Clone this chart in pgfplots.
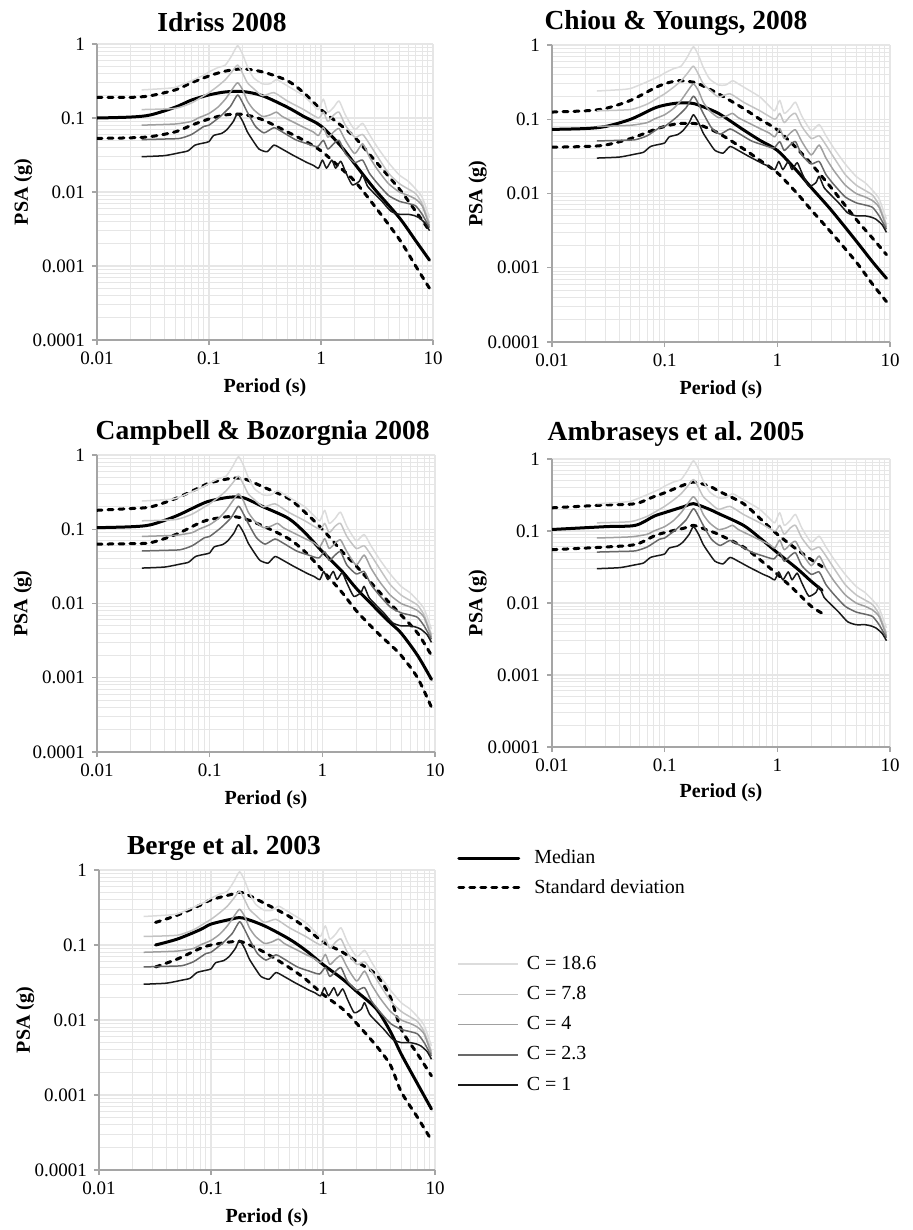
\documentclass[border=0pt]{standalone}
\usepackage{pgfplots}
\pgfplotsset{compat=1.18}
\usepackage{pgfplotstable}
\usepackage{fontspec}
\setmainfont{Liberation Serif}
\frenchspacing

\definecolor{cA}{RGB}{25,25,25}     % C = 1
\definecolor{cB}{RGB}{105,105,105}  % C = 2.3
\definecolor{cC}{RGB}{160,160,160}  % C = 4
\definecolor{cD}{RGB}{195,195,195}  % C = 7.8
\definecolor{cE}{RGB}{220,220,220}  % C = 18.6
\definecolor{gridc}{RGB}{230,230,230}
\definecolor{axisc}{RGB}{165,165,165}

% scaled records (same in every panel)
\pgfplotstableread{
T v
0.025 0.030
0.04 0.031
0.055 0.034
0.065 0.036
0.075 0.043
0.09 0.046
0.1 0.048
0.11 0.058
0.13 0.062
0.145 0.07
0.165 0.09
0.18 0.115
0.2 0.09
0.22 0.065
0.25 0.048
0.28 0.038
0.33 0.035
0.38 0.043
0.45 0.038
0.55 0.032
0.65 0.028
0.75 0.025
0.85 0.023
0.95 0.021
1.03 0.027
1.12 0.021
1.25 0.027
1.35 0.021
1.5 0.026
1.65 0.019
1.9 0.0125
2.2 0.014
2.35 0.017
2.6 0.012
3.0 0.0095
3.5 0.0075
4.2 0.0055
5.0 0.005
6.0 0.005
6.8 0.0048
7.5 0.0045
8.5 0.0038
9.3 0.003
}\tCa
\pgfplotstableread{
T v
0.025 0.051
0.04 0.052
0.055 0.053
0.07 0.06
0.09 0.077
0.1 0.08
0.126 0.105
0.155 0.143
0.18 0.205
0.2 0.16
0.22 0.12
0.26 0.077
0.31 0.063
0.38 0.074
0.45 0.065
0.59 0.051
0.75 0.045
0.93 0.041
1.05 0.05
1.15 0.038
1.3 0.045
1.45 0.05
1.65 0.033
2.0 0.025
2.35 0.027
2.7 0.018
3.2 0.013
4.0 0.009
5.0 0.0075
6.0 0.007
7.0 0.0065
8.0 0.005
9.3 0.0033
}\tCb
\pgfplotstableread{
T v
0.025 0.08
0.05 0.083
0.07 0.09
0.08 0.1
0.1 0.115
0.12 0.14
0.14 0.18
0.16 0.24
0.18 0.3
0.2 0.24
0.22 0.17
0.25 0.13
0.3 0.105
0.35 0.11
0.4 0.12
0.45 0.105
0.55 0.09
0.7 0.075
0.85 0.065
0.95 0.058
1.05 0.075
1.15 0.055
1.3 0.065
1.45 0.072
1.65 0.05
2.0 0.033
2.35 0.045
2.7 0.03
3.2 0.02
4.0 0.013
5.0 0.01
6.0 0.009
7.0 0.008
8.0 0.0065
9.3 0.0035
}\tCc
\pgfplotstableread{
T v
0.025 0.13
0.05 0.135
0.07 0.16
0.09 0.2
0.1 0.22
0.12 0.27
0.14 0.33
0.16 0.42
0.18 0.52
0.2 0.4
0.22 0.3
0.25 0.25
0.3 0.2
0.38 0.22
0.5 0.17
0.7 0.13
0.95 0.1
1.05 0.12
1.15 0.09
1.3 0.11
1.45 0.12
1.65 0.08
2.0 0.055
2.35 0.06
2.7 0.045
3.2 0.03
4.0 0.018
5.0 0.013
6.0 0.011
7.0 0.0095
8.0 0.007
9.3 0.0038
}\tCd
\pgfplotstableread{
T v
0.025 0.24
0.04 0.25
0.05 0.26
0.07 0.32
0.09 0.38
0.1 0.42
0.12 0.48
0.14 0.52
0.16 0.7
0.18 0.95
0.2 0.72
0.22 0.5
0.25 0.35
0.3 0.29
0.35 0.29
0.4 0.33
0.45 0.3
0.55 0.25
0.7 0.2
0.85 0.15
0.95 0.13
1.05 0.18
1.15 0.12
1.3 0.14
1.45 0.17
1.65 0.11
2.0 0.07
2.35 0.085
2.7 0.06
3.2 0.04
4.0 0.025
5.0 0.017
6.0 0.014
7.0 0.011
8.0 0.0085
9.3 0.0045
}\tCe

% Idriss 2008: T median upper lower
\pgfplotstableread{
T m u l
0.01 0.100 0.19 0.053
0.02 0.103 0.19 0.054
0.03 0.11 0.2 0.056
0.05 0.14 0.24 0.065
0.07 0.175 0.3 0.08
0.1 0.205 0.37 0.097
0.14 0.225 0.43 0.11
0.2 0.228 0.46 0.112
0.3 0.2 0.42 0.095
0.5 0.14 0.32 0.065
0.7 0.105 0.22 0.05
1 0.078 0.13 0.036
1.5 0.042 0.08 0.021
2 0.024 0.055 0.014
3 0.011 0.027 0.0065
5 0.0045 0.011 0.0023
7 0.0022 0.0055 0.001
9.3 0.0012 0.003 0.0005
}\tIdr
% Chiou & Youngs 2008
\pgfplotstableread{
T m u l
0.01 0.073 0.125 0.042
0.02 0.075 0.13 0.043
0.03 0.08 0.14 0.045
0.05 0.1 0.18 0.055
0.08 0.14 0.26 0.072
0.1 0.155 0.3 0.08
0.13 0.165 0.33 0.087
0.17 0.165 0.32 0.088
0.2 0.155 0.3 0.085
0.3 0.12 0.22 0.065
0.5 0.072 0.14 0.04
0.7 0.052 0.1 0.028
1 0.038 0.072 0.019
1.5 0.02 0.04 0.01
2 0.012 0.025 0.006
3 0.006 0.012 0.003
5 0.0023 0.0045 0.0012
7 0.0012 0.0025 0.0006
9.3 0.00072 0.0015 0.00035
}\tChi
% Campbell & Bozorgnia 2008
\pgfplotstableread{
T m u l
0.01 0.105 0.18 0.063
0.02 0.108 0.19 0.064
0.03 0.115 0.2 0.066
0.05 0.15 0.26 0.085
0.08 0.21 0.36 0.12
0.1 0.24 0.42 0.135
0.15 0.27 0.48 0.148
0.2 0.265 0.48 0.14
0.3 0.2 0.37 0.11
0.5 0.14 0.26 0.075
0.7 0.09 0.17 0.05
1 0.05 0.1 0.028
1.5 0.027 0.05 0.014
2 0.016 0.032 0.008
3 0.0085 0.016 0.0042
4 0.0055 0.01 0.0028
5 0.004 0.007 0.002
7 0.002 0.004 0.001
9.3 0.00095 0.002 0.0004
}\tCam
% Ambraseys et al. 2005 (to 2.5 s)
\pgfplotstableread{
T m u l
0.01 0.105 0.21 0.055
0.03 0.115 0.23 0.06
0.055 0.12 0.24 0.065
0.08 0.16 0.3 0.085
0.1 0.18 0.34 0.095
0.15 0.22 0.44 0.11
0.18 0.24 0.48 0.12
0.25 0.2 0.42 0.1
0.3 0.175 0.36 0.09
0.5 0.12 0.24 0.06
0.7 0.08 0.15 0.04
1 0.05 0.09 0.025
1.5 0.03 0.055 0.014
2 0.02 0.04 0.009
2.5 0.015 0.032 0.0072
}\tAmb
% Berge et al. 2003
\pgfplotstableread{
T m u l
0.032 0.1 0.2 0.051
0.05 0.12 0.25 0.065
0.08 0.16 0.34 0.09
0.1 0.19 0.4 0.1
0.15 0.22 0.47 0.11
0.19 0.23 0.5 0.11
0.3 0.18 0.36 0.08
0.5 0.12 0.24 0.05
0.7 0.085 0.17 0.035
1 0.055 0.11 0.022
1.5 0.035 0.08 0.014
2 0.024 0.06 0.009
3 0.014 0.04 0.0045
4 0.007 0.02 0.0025
5 0.0035 0.0075 0.0011
7 0.0014 0.0035 0.0005
9.3 0.00065 0.0018 0.00025
}\tBer

\tikzset{
  med/.style={black, line width=1.5pt, line cap=round},
  sd/.style={black, line width=1.5pt, dash pattern=on 2.5pt off 3pt, line cap=round},
  cline/.style={line width=0.75pt, line join=round},
}

\pgfplotsset{
  every axis/.append style={
    scale only axis,
    tick label style={font=\fontsize{9.5}{11}\selectfont},
    title style={anchor=center, yshift=5pt, font=\bfseries\fontsize{13.75}{16}\selectfont},
  },
  every axis x label/.style={at={(axis description cs:0.5,-0.16)}, anchor=center,
    font=\bfseries\fontsize{10}{12}\selectfont},
  every axis y label/.style={at={(axis description cs:-0.22,0.5)}, anchor=center,
    rotate=90, font=\bfseries\fontsize{10}{12}\selectfont},
}

\newcommand\Ccurves{%
  \addplot[cline, cE, smooth, tension=0.35] table[x=T, y=v] {\tCe};
  \addplot[cline, cD, smooth, tension=0.35] table[x=T, y=v] {\tCd};
  \addplot[cline, cC, smooth, tension=0.35] table[x=T, y=v] {\tCc};
  \addplot[cline, cB, smooth, tension=0.35] table[x=T, y=v] {\tCb};
  \addplot[cline, cA, smooth, tension=0.35] table[x=T, y=v] {\tCa};
}
\newcommand\Model[1]{%
  \addplot[sd, smooth] table[x=T, y=u] {#1};
  \addplot[sd, smooth] table[x=T, y=l] {#1};
  \addplot[med, smooth] table[x=T, y=m] {#1};
}

\begin{document}
\begin{tikzpicture}
\path[use as bounding box] (0pt,0pt) rectangle (456.5pt,-615pt);

\begin{axis}[at={(48.5pt,-170pt)}, anchor=south west, width=168pt, height=148pt,
  xmode=log, ymode=log, xmin=0.01, xmax=10, ymin=0.0001, ymax=1,
  axis x line=bottom, axis y line=left, axis line style={draw=axisc, line width=0.6pt, -},
  grid=both, major grid style={draw=gridc, line width=0.7pt}, minor grid style={draw=gridc, line width=0.5pt},
  tick align=outside, major tick length=2.5pt, minor tick length=0pt, tick style={draw=axisc, line width=0.6pt},
  log ticks with fixed point, /pgf/number format/assume math mode=true,
  xlabel={Period (s)}, ylabel={PSA (g)},
  title={Idriss 2008}, title style={at={(axis description cs:0.372,1)}}]
\Model{\tIdr}
\Ccurves
\end{axis}

\begin{axis}[at={(276pt,-171pt)}, anchor=south west, width=169pt, height=148.5pt,
  xmode=log, ymode=log, xmin=0.01, xmax=10, ymin=0.0001, ymax=1,
  axis x line=bottom, axis y line=left, axis line style={draw=axisc, line width=0.6pt, -},
  grid=both, major grid style={draw=gridc, line width=0.7pt}, minor grid style={draw=gridc, line width=0.5pt},
  tick align=outside, major tick length=2.5pt, minor tick length=0pt, tick style={draw=axisc, line width=0.6pt},
  log ticks with fixed point, /pgf/number format/assume math mode=true,
  xlabel={Period (s)}, ylabel={PSA (g)},
  title={Chiou \& Youngs, 2008}, title style={at={(axis description cs:0.367,1)}}]
\Model{\tChi}
\Ccurves
\end{axis}

\begin{axis}[at={(48.5pt,-376pt)}, anchor=south west, width=169pt, height=148.5pt,
  xmode=log, ymode=log, xmin=0.01, xmax=10, ymin=0.0001, ymax=1,
  axis x line=bottom, axis y line=left, axis line style={draw=axisc, line width=0.6pt, -},
  grid=both, major grid style={draw=gridc, line width=0.7pt}, minor grid style={draw=gridc, line width=0.5pt},
  tick align=outside, major tick length=2.5pt, minor tick length=0pt, tick style={draw=axisc, line width=0.6pt},
  log ticks with fixed point, /pgf/number format/assume math mode=true,
  xlabel={Period (s)}, ylabel={PSA (g)},
  title={Campbell \& Bozorgnia 2008}, title style={at={(axis description cs:0.49,1)}}]
\Model{\tCam}
\Ccurves
\end{axis}

\begin{axis}[at={(276pt,-373.5pt)}, anchor=south west, width=169pt, height=144pt,
  xmode=log, ymode=log, xmin=0.01, xmax=10, ymin=0.0001, ymax=1,
  axis x line=bottom, axis y line=left, axis line style={draw=axisc, line width=0.6pt, -},
  grid=both, major grid style={draw=gridc, line width=0.7pt}, minor grid style={draw=gridc, line width=0.5pt},
  tick align=outside, major tick length=2.5pt, minor tick length=0pt, tick style={draw=axisc, line width=0.6pt},
  log ticks with fixed point, /pgf/number format/assume math mode=true,
  xlabel={Period (s)}, ylabel={PSA (g)},
  title={Ambraseys et al. 2005}, title style={at={(axis description cs:0.367,1)}, yshift=1.5pt}]
\Model{\tAmb}
\Ccurves
\end{axis}

\begin{axis}[at={(49.5pt,-585pt)}, anchor=south west, width=168pt, height=150pt,
  xmode=log, ymode=log, xmin=0.01, xmax=10, ymin=0.0001, ymax=1,
  axis x line=bottom, axis y line=left, axis line style={draw=axisc, line width=0.6pt, -},
  grid=both, major grid style={draw=gridc, line width=0.7pt}, minor grid style={draw=gridc, line width=0.5pt},
  tick align=outside, major tick length=2.5pt, minor tick length=0pt, tick style={draw=axisc, line width=0.6pt},
  log ticks with fixed point, /pgf/number format/assume math mode=true,
  xlabel={Period (s)}, ylabel={PSA (g)},
  title={Berge et al. 2003}, title style={at={(axis description cs:0.372,1)}}]
\Model{\tBer}
\Ccurves
\end{axis}

% legends, placed against the Berge panel
\begin{axis}[at={(49.5pt,-585pt)}, anchor=south west, width=168pt, height=150pt,
  hide axis, xmin=0, xmax=1, ymin=0, ymax=1,
  legend cell align=left,
  legend image code/.code={\draw[#1] (0pt,0pt) -- (30pt,0pt);},
  legend style={draw=none, fill=none, at={(axis description cs:1.065,0.99)}, anchor=west,
    inner sep=0pt, column sep=5pt, row sep=2.5pt, font=\fontsize{10}{12}\selectfont}]
\addlegendimage{med}
\addlegendentry{Median}
\addlegendimage{sd}
\addlegendentry{Standard deviation}
\end{axis}

\begin{axis}[at={(49.5pt,-585pt)}, anchor=south west, width=168pt, height=150pt,
  hide axis, xmin=0, xmax=1, ymin=0, ymax=1,
  legend cell align=left,
  legend image code/.code={\draw[#1] (0pt,0pt) -- (30pt,0pt);},
  legend style={draw=none, fill=none, at={(axis description cs:1.065,0.485)}, anchor=west,
    inner sep=0pt, column sep=2pt, row sep=3pt, font=\fontsize{10}{12}\selectfont}]
\addlegendimage{cline, cE}
\addlegendentry{C = 18.6}
\addlegendimage{cline, cD}
\addlegendentry{C = 7.8}
\addlegendimage{cline, cC}
\addlegendentry{C = 4}
\addlegendimage{cline, cB}
\addlegendentry{C = 2.3}
\addlegendimage{cline, cA}
\addlegendentry{C = 1}
\end{axis}
\end{tikzpicture}
\end{document}
